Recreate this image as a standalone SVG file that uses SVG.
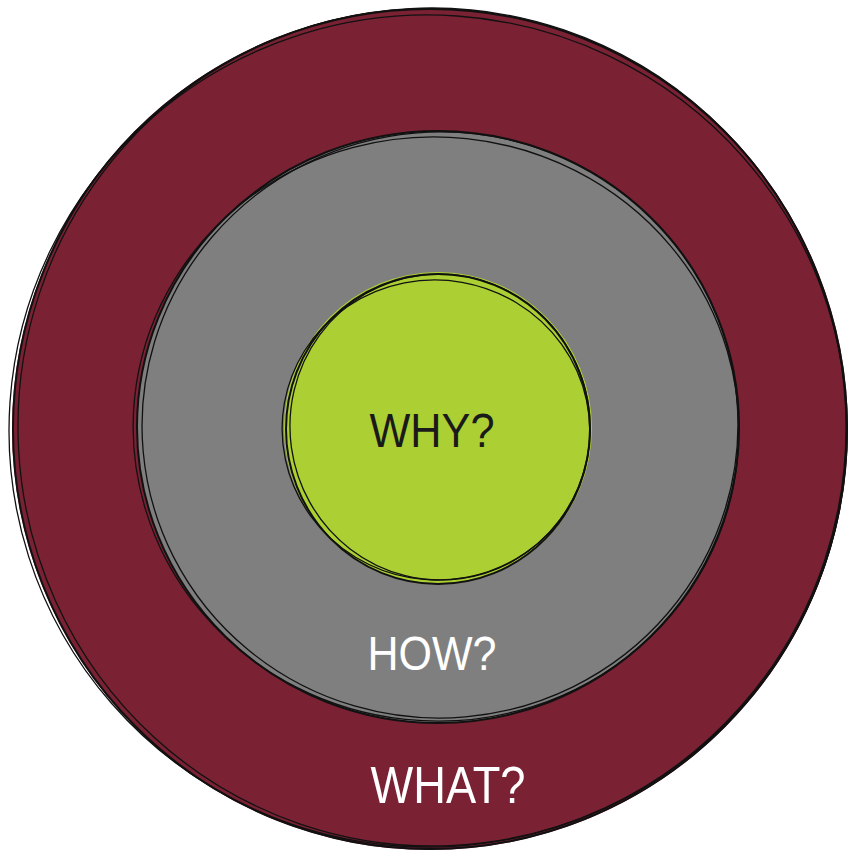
<svg xmlns="http://www.w3.org/2000/svg" width="850" height="853" viewBox="0 0 850 853">
  <style>
    .sk { fill: none; stroke: #111; stroke-width: 2; stroke-linecap: round; }
    .skt { fill: none; stroke: #111; stroke-width: 1.3; stroke-linecap: round; }
    .lbl { font-family: "Liberation Sans", "DejaVu Sans", sans-serif; font-weight: normal; text-anchor: middle; }
  </style>
  <rect width="850" height="853" fill="#ffffff"/>
  <g id="what">
    <ellipse cx="430" cy="429" rx="418" ry="421" fill="#7a2234"/>
    <ellipse class="sk" cx="430" cy="429" rx="417" ry="420"/>
    <ellipse class="skt" cx="432" cy="427" rx="414" ry="419" transform="rotate(-3 432 427)"/>
    <ellipse class="skt" cx="428" cy="431" rx="419" ry="416" transform="rotate(4 428 431)"/>
    <text class="lbl" x="448" y="803" font-size="51" fill="#ffffff" textLength="155" lengthAdjust="spacingAndGlyphs">WHAT?</text>
  </g>
  <g id="how">
    <ellipse cx="438" cy="427" rx="301" ry="296" fill="#7f7f7f"/>
    <ellipse class="sk" cx="438" cy="427" rx="301" ry="296"/>
    <ellipse class="skt" cx="440" cy="425" rx="298" ry="293" transform="rotate(-5 440 425)"/>
    <ellipse class="skt" cx="436" cy="429" rx="303" ry="292" transform="rotate(6 436 429)"/>
    <text class="lbl" x="432" y="670" font-size="48" fill="#ffffff" textLength="129" lengthAdjust="spacingAndGlyphs">HOW?</text>
  </g>
  <g id="why">
    <ellipse cx="438" cy="428" rx="154" ry="156" fill="#acd033"/>
    <ellipse class="sk" cx="438" cy="429" rx="152" ry="155"/>
    <ellipse class="skt" cx="440" cy="427" rx="150" ry="153" transform="rotate(-8 440 427)"/>
    <ellipse class="skt" cx="436" cy="430" rx="154" ry="150" transform="rotate(10 436 430)"/>
    <text class="lbl" x="432" y="447" font-size="48" fill="#1a1a1a" textLength="125" lengthAdjust="spacingAndGlyphs">WHY?</text>
  </g>
</svg>
